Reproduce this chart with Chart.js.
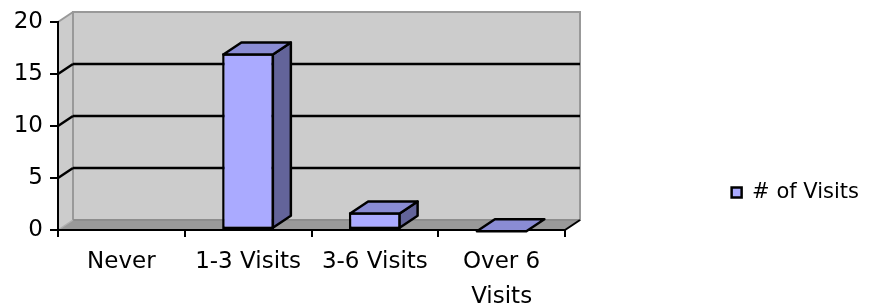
<!DOCTYPE html>
<html>
<head>
<meta charset="utf-8">
<script src="https://cdn.jsdelivr.net/npm/chart.js@4.4.1/dist/chart.umd.min.js"></script>
<style>
  html, body { margin: 0; padding: 0; background: #ffffff; }
  #wrap { width: 869px; height: 308px; position: relative; }
</style>
</head>
<body>
<div id="wrap"><canvas id="c"></canvas></div>
<script>
// ---- data ----
const categories = ['Never', '1-3 Visits', '3-6 Visits', ['Over 6', 'Visits']];
const seriesName = '# of Visits';
const visits = [null, 17, 1.7, 0];
const yTicks = [0, 5, 10, 15, 20];

// ---- style ----
const FONT = "'DejaVu Sans', sans-serif";
const FONT_SIZE = 23;
const LEGEND_FONT = 21;
const WALL = { dx: 15, dy: -10 };
const BAR = { dx: 18, dy: -12 };
const PLOT_LEFT = 58, PLOT_TOP = 22, PLOT_RIGHT = 565, PLOT_BOTTOM = 230;
const LEGEND_PAD = 27, LEGEND_BOX = 10;
const COLORS = {
  front: '#aaaaff', top: '#8a8cd4', side: '#63649a',
  wall: '#cccccc', wallEdge: '#999999', floor: '#999999', floorEdge: '#8a8a8a'
};

function poly(ctx, pts, fill, stroke, lw) {
  ctx.beginPath();
  ctx.moveTo(pts[0][0], pts[0][1]);
  for (let i = 1; i < pts.length; i++) ctx.lineTo(pts[i][0], pts[i][1]);
  ctx.closePath();
  if (fill) { ctx.fillStyle = fill; ctx.fill(); }
  if (stroke) { ctx.strokeStyle = stroke; ctx.lineWidth = lw || 1; ctx.stroke(); }
}
function line(ctx, x1, y1, x2, y2, color, lw) {
  ctx.beginPath();
  ctx.moveTo(x1, y1); ctx.lineTo(x2, y2);
  ctx.strokeStyle = color; ctx.lineWidth = lw; ctx.stroke();
}

const threeD = {
  id: 'threeD',
  beforeDraw(chart) {
    const ctx = chart.ctx;
    const a = chart.chartArea;
    const y = chart.scales.y;
    const L = a.left, R = a.right, T = a.top, B = a.bottom;
    const dx = WALL.dx, dy = WALL.dy;
    ctx.save();
    ctx.lineJoin = 'miter';
    poly(ctx, [[L, T], [L + dx, T + dy], [L + dx, B + dy], [L, B]], COLORS.wall, null);
    poly(ctx, [[L + dx, T + dy], [R + dx, T + dy], [R + dx, B + dy], [L + dx, B + dy]], COLORS.wall, COLORS.wallEdge, 2);
    poly(ctx, [[L, B], [L + dx, B + dy], [R + dx, B + dy], [R, B]], COLORS.floor, null);
    line(ctx, L + dx, B + dy, R + dx, B + dy, COLORS.floorEdge, 1.5);
    line(ctx, L, B, L + dx, B + dy, '#b0b0b0', 1.5);
    line(ctx, L, T, L + dx, T + dy, COLORS.wallEdge, 2);
    y.ticks.forEach(t => {
      if (t.value === y.min || t.value === y.max) return;
      const py = y.getPixelForValue(t.value);
      line(ctx, L, py, L + dx, py + dy, '#000000', 2.5);
      line(ctx, L + dx, py + dy, R + dx, py + dy, '#000000', 2.5);
    });
    line(ctx, R, B, R + dx, B + dy, '#000000', 2);
    ctx.restore();
  },
  afterDatasetsDraw(chart) {
    const ctx = chart.ctx;
    const meta = chart.getDatasetMeta(0);
    const ds = chart.data.datasets[0];
    const bw = ds.borderWidth / 2;
    ctx.save();
    ctx.lineJoin = 'round';
    meta.data.forEach((bar, i) => {
      if (ds.data[i] === null || ds.data[i] === undefined) return;
      const p = bar.getProps(['x', 'y', 'base', 'width'], true);
      const l = p.x - p.width / 2 + bw, r = p.x + p.width / 2 - bw;
      const top = p.y + bw, base = p.base - bw;
      const dx = BAR.dx, dy = BAR.dy;
      if (base - top > 0.5) {
        poly(ctx, [[r, top], [r + dx, top + dy], [r + dx, base + dy], [r, base]], COLORS.side, '#000000', 2.5);
      }
      poly(ctx, [[l, top], [l + dx, top + dy], [r + dx, top + dy], [r, top]], COLORS.top, '#000000', 2.5);
    });
    ctx.restore();
  }
};

Chart.defaults.font.family = FONT;
Chart.defaults.font.size = FONT_SIZE;
Chart.defaults.color = '#000000';

new Chart(document.getElementById('c'), {
  type: 'bar',
  data: {
    labels: categories,
    datasets: [{
      label: seriesName,
      data: visits,
      backgroundColor: COLORS.front,
      borderColor: '#000000',
      borderWidth: 2.5,
      borderSkipped: false,
      categoryPercentage: 1.0,
      barPercentage: 0.41
    }]
  },
  options: {
    responsive: true,
    maintainAspectRatio: false,
    devicePixelRatio: 1,
    animation: false,
    layout: { padding: { top: PLOT_TOP, left: 0, right: 0, bottom: 0 } },
    plugins: {
      tooltip: { enabled: false },
      legend: {
        display: true,
        position: 'right',
        align: 'end',
        fullSize: false,
        maxWidth: 400,
        labels: {
          boxWidth: LEGEND_BOX,
          boxHeight: LEGEND_BOX,
          padding: LEGEND_PAD,
          color: '#000000',
          font: { size: LEGEND_FONT, family: FONT }
        }
      }
    },
    scales: {
      x: {
        position: 'bottom',
        offset: true,
        grid: { display: true, drawOnChartArea: false, drawTicks: true, tickLength: 7, color: '#000000', lineWidth: 2, offset: true },
        border: { display: true, color: '#000000', width: 2 },
        ticks: { padding: 8, maxRotation: 0, minRotation: 0, autoSkip: false, font: { size: FONT_SIZE, lineHeight: 1.5 } },
        afterFit(s) { s.height = s.chart.height - PLOT_BOTTOM; }
      },
      y: {
        position: 'left',
        min: 0, max: 20,
        afterBuildTicks(s) { s.ticks = yTicks.map(v => ({ value: v })); },
        grid: { display: true, drawOnChartArea: false, drawTicks: true, tickLength: 8, color: '#000000', lineWidth: 2 },
        border: { display: true, color: '#000000', width: 2 },
        ticks: { padding: 7, font: { size: FONT_SIZE } },
        afterFit(s) { s.width = PLOT_LEFT; }
      },
      spacer: {
        type: 'linear',
        position: 'right',
        display: true,
        grid: { display: false },
        border: { display: false },
        ticks: { display: false },
        afterFit(s) {
          const ctx = s.ctx;
          ctx.save();
          ctx.font = 'normal ' + LEGEND_FONT + 'px ' + FONT;
          const tw = ctx.measureText(seriesName).width;
          ctx.restore();
          const legendW = LEGEND_PAD + LEGEND_BOX + LEGEND_FONT / 2 + tw + 10;
          s.width = Math.max(0, s.chart.width - PLOT_RIGHT - legendW);
        }
      }
    }
  },
  plugins: [threeD]
});
</script>
</body>
</html>
